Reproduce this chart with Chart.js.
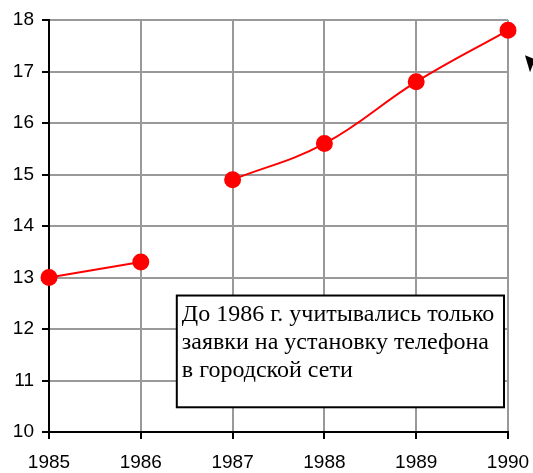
<!DOCTYPE html>
<html><head><meta charset="utf-8">
<script src="https://cdn.jsdelivr.net/npm/chart.js@4.4.0/dist/chart.umd.min.js"></script>
<style>html,body{margin:0;padding:0;background:#fff}#wrap{width:533px;height:473px;position:relative}</style>
</head><body><div id="wrap"><canvas id="c" width="533" height="473"></canvas></div>
<script>
const years = ['1985','1986','1987','1988','1989','1990'];
const before1986 = [13.0, 13.3, null, null, null, null];
const after1987 = [null, null, 14.9, 15.6, 16.8, 17.8];
const yTicks = [10,11,12,13,14,15,16,17,18];
const noteLines = ['До 1986 г. учитывались только','заявки на установку телефона','в городской сети'];

const notePlugin = {
  id:'note',
  afterDraw(chart){
    const ctx = chart.ctx, x = chart.scales.x, y = chart.scales.y;
    const l = x.getPixelForValue(1) + 36, r = x.getPixelForValue(5) - 4;
    const t = y.getPixelForValue(12.65), b = y.getPixelForValue(10.48);
    ctx.save();
    ctx.fillStyle='#fff'; ctx.fillRect(l,t,r-l,b-t);
    ctx.strokeStyle='#000'; ctx.lineWidth=2; ctx.strokeRect(l,t,r-l,b-t);
    ctx.fillStyle='#000'; ctx.font='24px "Liberation Serif", "Times New Roman", serif';
    ctx.textBaseline='alphabetic'; ctx.textAlign='left';
    noteLines.forEach((s,i)=>ctx.fillText(s, l+5, t+25+i*28));
    // small black arrow fragment at the right edge
    const ax = chart.width - 7, ay = y.getPixelForValue(17.2);
    ctx.beginPath(); ctx.moveTo(ax-1, ay-6); ctx.lineTo(ax+9, ay-2); ctx.lineTo(ax+4, ay+11); ctx.closePath(); ctx.fill();
    ctx.restore();
  }
};

new Chart(document.getElementById('c'), {
  type:'line',
  data:{labels:years, datasets:[
    {data:before1986, borderColor:'#ff0000', backgroundColor:'#ff0000', borderWidth:2, pointRadius:7.5, pointHoverRadius:7.5, tension:0.4, spanGaps:false},
    {data:after1987, borderColor:'#ff0000', backgroundColor:'#ff0000', borderWidth:2, pointRadius:7.5, pointHoverRadius:7.5, tension:0.4, spanGaps:false}
  ]},
  options:{
    responsive:false, animation:false,
    layout:{padding:{top:20,right:25,left:0,bottom:0}},
    plugins:{legend:{display:false}, tooltip:{enabled:false}},
    scales:{
      x:{offset:false,
        grid:{color:'#999', lineWidth:2, tickColor:'#000', tickLength:7, drawOnChartArea:true},
        border:{color:'#000', width:2},
        ticks:{color:'#000', font:{family:'"Liberation Sans", Arial, sans-serif', size:19}, padding:12, maxRotation:0, autoSkip:false},
        afterFit(s){s.height=41; s.paddingLeft=0; s.paddingRight=0;}
      },
      y:{min:10, max:18,
        afterBuildTicks(s){s.ticks = yTicks.map(v=>({value:v}));},
        grid:{color:'#999', lineWidth:2, tickColor:'#000', tickLength:7},
        border:{color:'#000', width:2},
        ticks:{color:'#000', font:{family:'"Liberation Sans", Arial, sans-serif', size:19}, padding:8},
        afterFit(s){s.width=49; s.paddingTop=0; s.paddingBottom=0;}
      }
    }
  },
  plugins:[notePlugin]
});
</script></body></html>
